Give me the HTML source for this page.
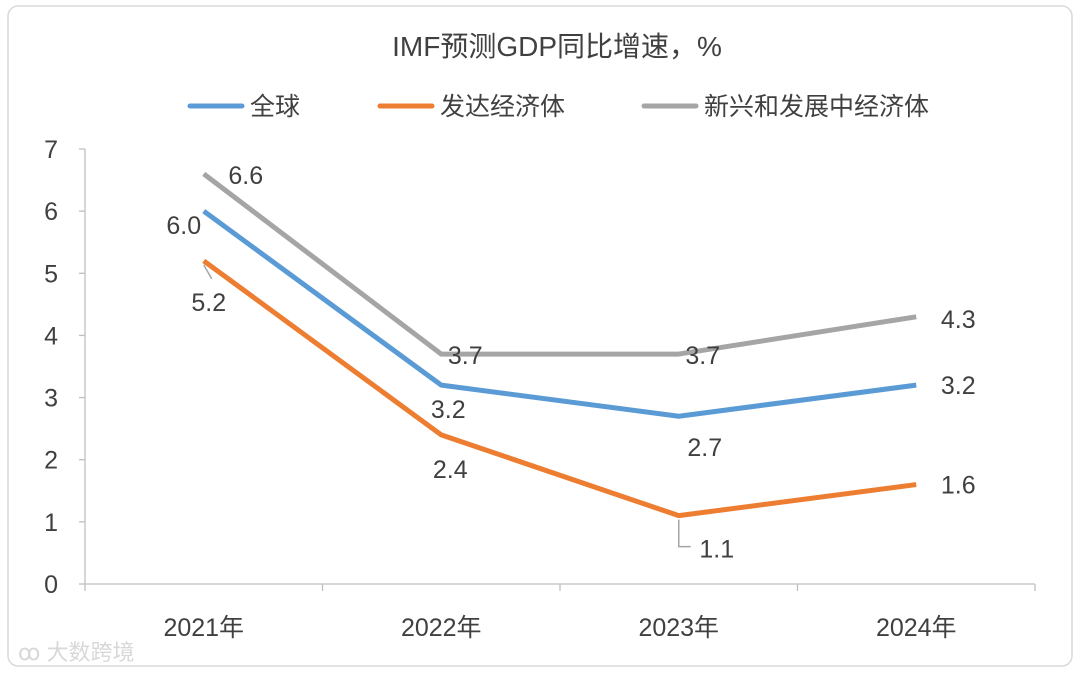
<!DOCTYPE html>
<html><head><meta charset="utf-8"><style>
body{margin:0;background:#fff;}
svg text{font-family:"Liberation Sans","Noto Sans CJK SC",sans-serif;fill:#404040;}
</style></head><body>
<svg id="c" width="1080" height="670" xmlns="http://www.w3.org/2000/svg">
<rect x="8" y="6" width="1064" height="660" rx="10" fill="#fff" stroke="#d9d9d9" stroke-width="1.5"/>
<text x="557" y="56" font-size="28" text-anchor="middle">IMF预测GDP同比增速，%</text>
<g id="legend"></g>
<g id="axes"></g>
<g id="plot"></g>
<text x="18" y="660" font-size="22" style="fill:#d8d8d8">ꝏ 大数跨境</text>
</svg>
<script>
const categories=["2021年","2022年","2023年","2024年"];
const seriesNames=["全球","发达经济体","新兴和发展中经济体"];
const globalVals=[6.0,3.2,2.7,3.2];
const advancedVals=[5.2,2.4,1.1,1.6];
const emergingVals=[6.6,3.7,3.7,4.3];
const yTicks=[0,1,2,3,4,5,6,7];

const NS="http://www.w3.org/2000/svg";
const X0=85,X1=1035,Y0=584,Y7=149;
const bw=(X1-X0)/categories.length;
const xs=i=>X0+bw*(i+0.5);
const ys=v=>Y0-(Y0-Y7)*v/7;
function mk(tag,attrs,parent){const e=document.createElementNS(NS,tag);for(const k in attrs)e.setAttribute(k,attrs[k]);parent.appendChild(e);return e;}
const axes=document.getElementById('axes'),plot=document.getElementById('plot'),legend=document.getElementById('legend');
let ax=mk('line',{x1:X0,y1:Y7,x2:X0,y2:Y0,stroke:'#bfbfbf','stroke-width':1.3},axes);


ax=mk('line',{x1:X0,y1:Y0,x2:X1,y2:Y0,stroke:'#bfbfbf','stroke-width':1.3},axes);


yTicks.forEach(t=>{
  const l=mk('line',{x1:X0-6,y1:ys(t),x2:X0,y2:ys(t),stroke:'#bfbfbf','stroke-width':1.3},axes);
  
  
  const tx=mk('text',{x:58,y:ys(t)+9,'font-size':25,'text-anchor':'end'},axes);tx.textContent=t;
  
  
});
for(let i=0;i<=categories.length;i++){
  const l=mk('line',{x1:X0+bw*i,y1:Y0,x2:X0+bw*i,y2:Y0+7,stroke:'#bfbfbf','stroke-width':1.3},axes);
  
  
}
categories.forEach((c,i)=>{
  const tx=mk('text',{x:xs(i),y:636,'font-size':25,'text-anchor':'middle'},axes);tx.textContent=c;
  
  
});
const colors=['#5B9BD5','#ED7D31','#A5A5A5'];
const all=[globalVals,advancedVals,emergingVals];
const keys=['global','advanced','emerging'];
const labelOff=[[[-20,14],[7,24],[26,31],[42,0]],[[5,41],[9,34],[38,33],[42,0]],[[42,1],[24,1],[24,1],[42,2]]];
[2,0,1].forEach(s=>{
  const pts=all[s].map((v,i)=>xs(i)+','+ys(v)).join(' ');
  const p=mk('polyline',{points:pts,fill:'none',stroke:colors[s],'stroke-width':5,'stroke-linejoin':'round'},plot);
  
  
});
let ll=mk('polyline',{points:`${xs(0)},${ys(advancedVals[0])+4} ${xs(0)+8},${ys(advancedVals[0])+18}`,fill:'none',stroke:'#a5a5a5','stroke-width':1.5},plot);


ll=mk('polyline',{points:`${xs(2)},${ys(advancedVals[2])+4} ${xs(2)},${ys(advancedVals[2])+31} ${xs(2)+12},${ys(advancedVals[2])+31}`,fill:'none',stroke:'#a5a5a5','stroke-width':1.5},plot);


all.forEach((arr,s)=>arr.forEach((v,i)=>{
  const tx=mk('text',{x:xs(i)+labelOff[s][i][0],y:ys(v)+labelOff[s][i][1]+9,'font-size':25,'text-anchor':'middle'},plot);
  tx.textContent=v.toFixed(1);
  
  
}));
const lx=[190,380,644];
seriesNames.forEach((n,s)=>{
  const l=mk('line',{x1:lx[s],y1:106,x2:lx[s]+52,y2:106,stroke:colors[s],'stroke-width':5,'stroke-linecap':'round'},legend);
  
  
  const tx=mk('text',{x:lx[s]+60,y:115,'font-size':25},legend);tx.textContent=n;
  
  
});
</script>
</body></html>
